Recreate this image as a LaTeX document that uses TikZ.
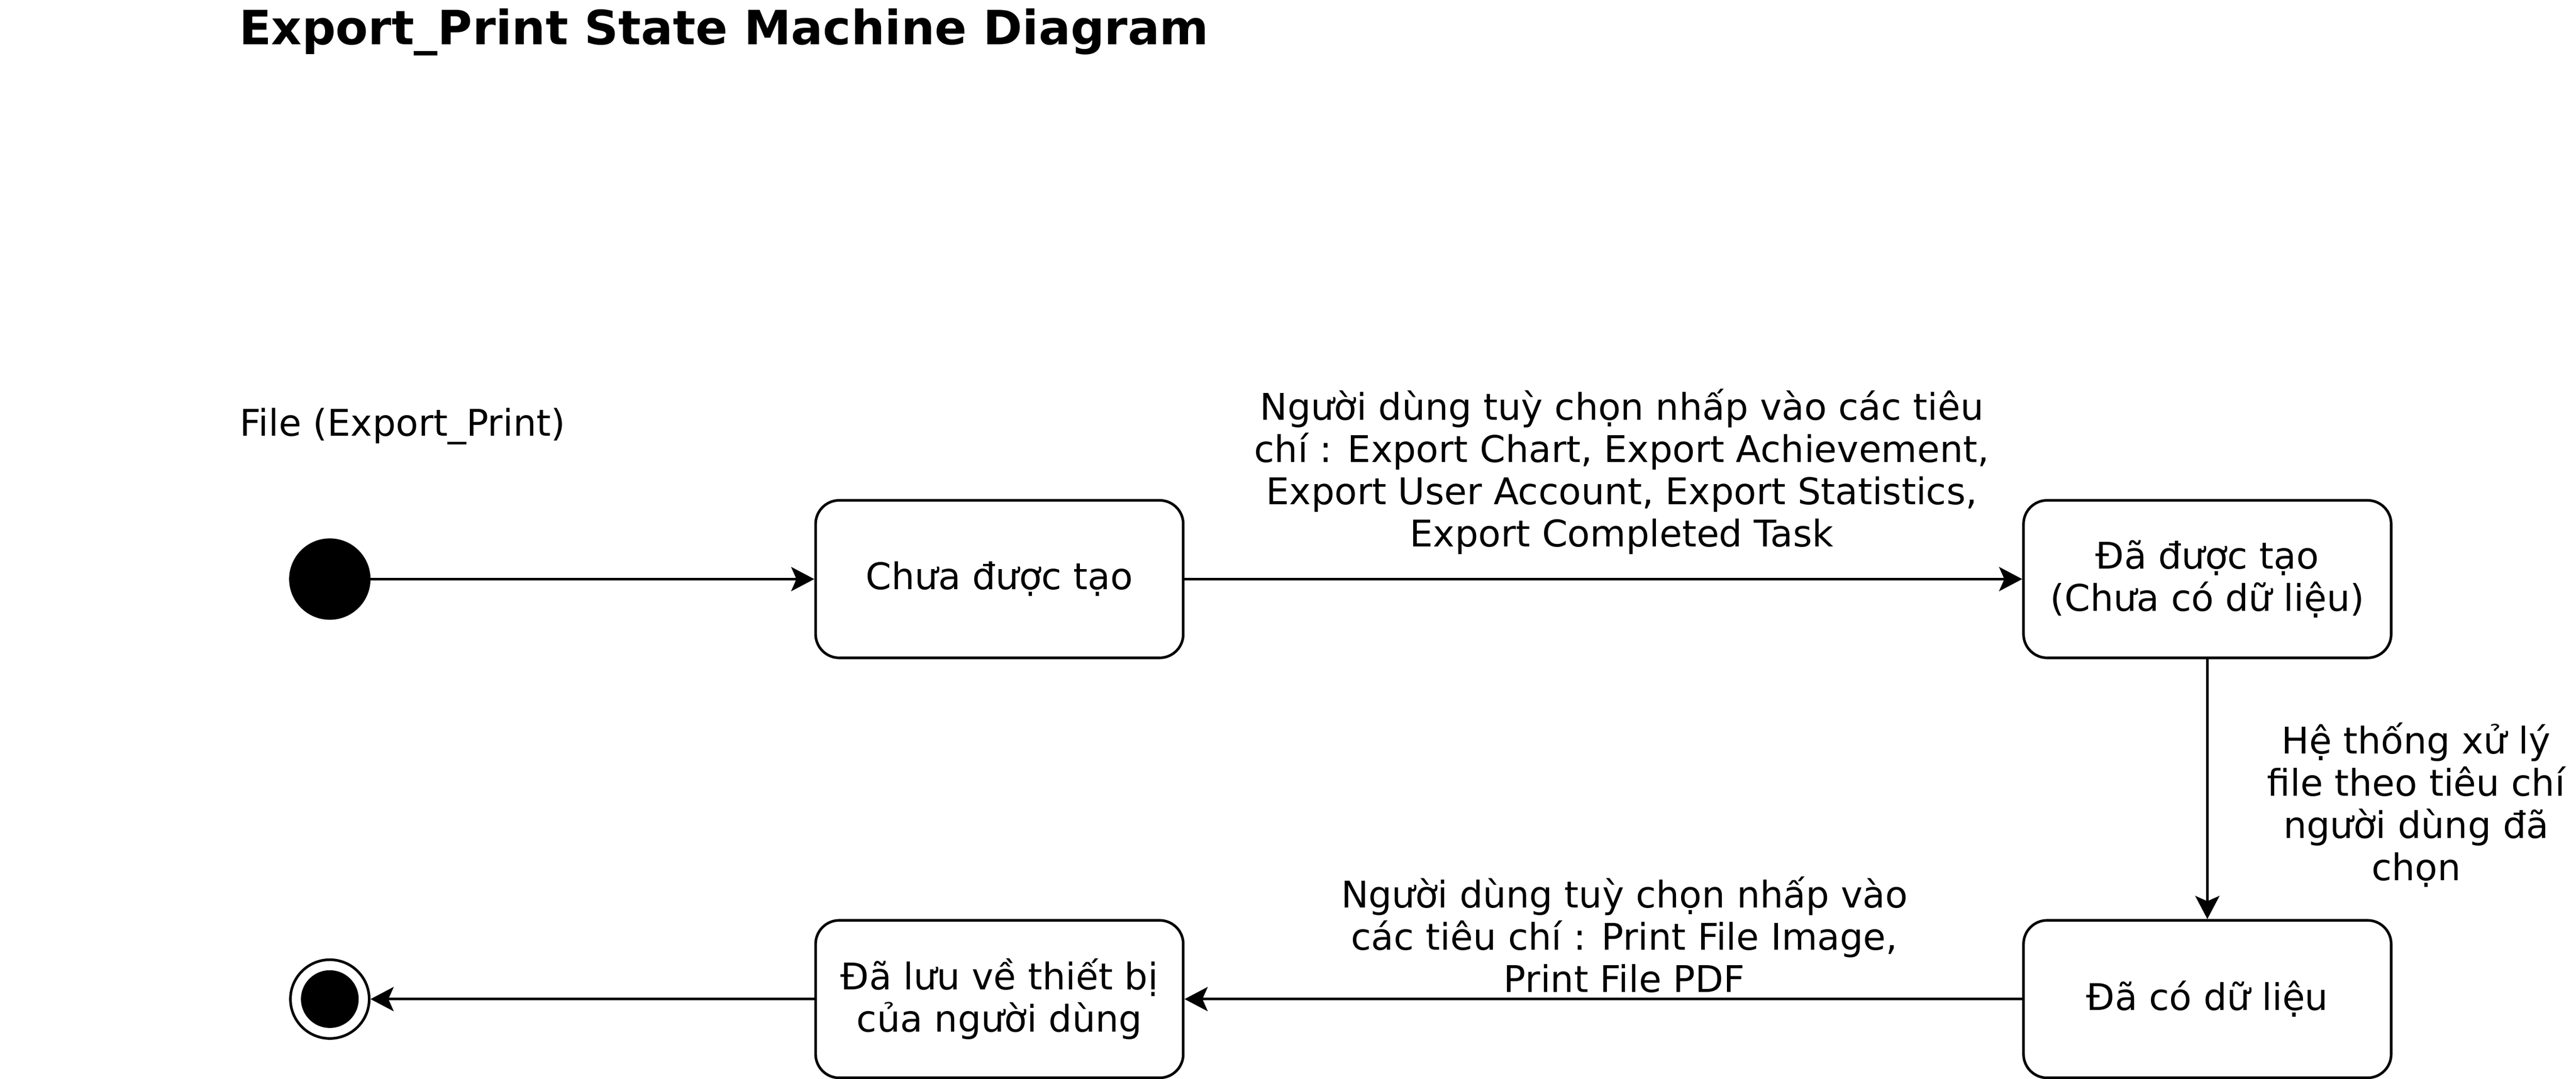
\documentclass[tikz,border=0pt]{standalone}
\usepackage{fontspec}
\setmainfont{DejaVu Sans}
\usetikzlibrary{positioning,arrows.meta}

\begin{document}
\begin{tikzpicture}[x=1pt,y=-1pt,line width=1pt,
state/.style={draw,rounded corners=9pt,minimum width=140pt,minimum height=60pt,align=center,inner sep=0pt},
trans/.style={-{Stealth[length=8.8pt,width=9.2pt,inset=2pt]}},
txt/.style={align=center,inner sep=0pt,font=\fontsize{14}{16.1}\selectfont}]
\useasboundingbox (0,0) rectangle (981,411);

\node[anchor=base west,inner sep=0pt,font=\fontsize{18}{21}\selectfont\bfseries] (title) at (90.6,17) {Export\_Print State Machine Diagram};
\node[anchor=west,txt] (file) at (90.9,162.5) {File (Export\_Print)};

\begin{scope}[xshift=0.6pt,yshift=-0.6pt]
\node[draw,fill=black,circle,inner sep=0pt,minimum size=30pt] (init) at (125,220) {};
\node[draw,circle,inner sep=0pt,minimum size=30pt] (final) at (125,380) {};
\node[fill=black,circle,inner sep=0pt,minimum size=22pt] (finaldot) at (125,380) {};

\node[state,txt] (s1) at (380,220) {Chưa được tạo};
\node[state,txt] (s2) at (840,220) {Đã được tạo\\(Chưa có dữ liệu)};
\node[state,txt] (s3) at (840,380) {Đã có dữ liệu};
\node[state,txt] (s4) at (380,380) {Đã lưu về thiết bị\\của người dùng};

\draw[trans] (init) -- (s1);
\draw[trans] (s1) -- (s2);
\draw[trans] (s2) -- (s3);
\draw[trans] (s3) -- (s4);
\draw[trans] (s4) -- (final);

\node[txt] (s2label) at (617,179) {Người dùng tuỳ chọn nhấp vào các tiêu\\chí : Export Chart, Export Achievement,\\Export User Account, Export Statistics,\\Export Completed Task};
\node[txt] (s3label) at (919.5,306) {Hệ thống xử lý\\file theo tiêu chí\\người dùng đã\\chọn};
\node[txt] (s4label) at (618,355.5) {Người dùng tuỳ chọn nhấp vào\\các tiêu chí : Print File Image,\\Print File PDF};
\end{scope}

\end{tikzpicture}
\end{document}
